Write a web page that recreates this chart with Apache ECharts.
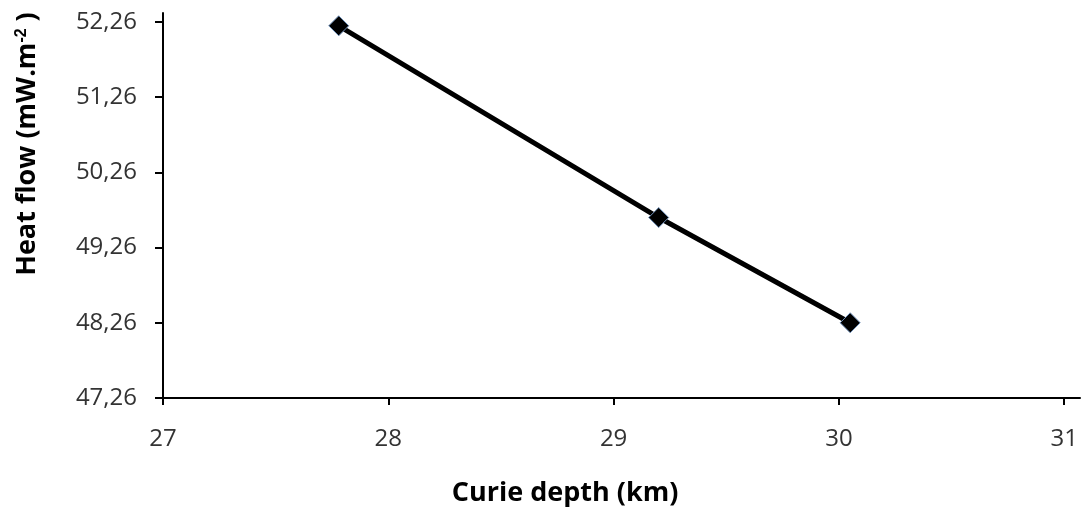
<!DOCTYPE html>
<html style="height: 100%">
<head>
	<meta charset="utf-8">
	<title></title>
	<script type="text/javascript" src="https://cdn.jsdelivr.net/npm/echarts@6/dist/echarts.min.js"></script>
</head>
<body style="height: 100%; margin: 0">
<div id="container" style="width: 1084px; height: 510px"></div>
<script type="text/javascript">
	// values
	var curieDepth = [27.78, 29.20, 30.05];
	var heatFlow = [52.21, 49.66, 48.26];
	var xTicks = [27, 28, 29, 30, 31];
	var yTicks = [47.26, 48.26, 49.26, 50.26, 51.26, 52.26];

	var dom = document.getElementById("container");
	var myChart = echarts.init(dom);

	var points = curieDepth.map(function (d, i) { return [d, heatFlow[i]]; });
	var font = '"Open Sans", sans-serif';

	var option = {
		backgroundColor: '#fff',
		animation: false,
		grid: { left: 163, right: 4, top: 13, bottom: 112 },
		xAxis: {
			type: 'value',
			min: 27,
			max: 31.07,
			splitLine: { show: false },
			axisLine: { lineStyle: { color: '#000', width: 2 } },
			axisTick: { customValues: xTicks, length: 7, lineStyle: { color: '#000', width: 2 } },
			axisLabel: {
				customValues: xTicks,
				margin: 29,
				fontSize: 24,
				fontFamily: font,
				color: '#333'
			}
		},
		yAxis: {
			type: 'value',
			min: 47.26,
			max: 52.38,
			splitLine: { show: false },
			axisLine: { show: true, lineStyle: { color: '#000', width: 2 } },
			axisTick: { show: true, customValues: yTicks, length: 8, lineStyle: { color: '#000', width: 2 } },
			axisLabel: {
				customValues: yTicks,
				margin: 26,
				fontSize: 24,
				fontFamily: font,
				color: '#333',
				formatter: function (v) { return v.toFixed(2).replace('.', ','); }
			}
		},
		graphic: [
			{
				type: 'text',
				x: 565, y: 493,
				style: {
					text: 'Curie depth (km)',
					font: 'bold 27px ' + font,
					fill: '#000',
					align: 'center',
					verticalAlign: 'middle'
				}
			},
			{
				type: 'text',
				x: 27, y: 144,
				rotation: Math.PI / 2,
				style: {
					rich: { sup: { fontSize: 16, fontWeight: 'bold', verticalAlign: 'top', padding: [0, 0, 10, 0] } },
					text: 'Heat flow (mW.m{sup|-2} )',
					font: 'bold 27px ' + font,
					fill: '#000',
					align: 'center',
					verticalAlign: 'middle'
				}
			}
		],
		series: [{
			type: 'line',
			data: points,
			symbol: 'diamond',
			symbolSize: 20,
			lineStyle: { color: '#000', width: 5 },
			itemStyle: { color: '#000', borderColor: '#6f8fb8', borderWidth: 1 }
		}]
	};
	myChart.setOption(option);
</script>
</body>
</html>
